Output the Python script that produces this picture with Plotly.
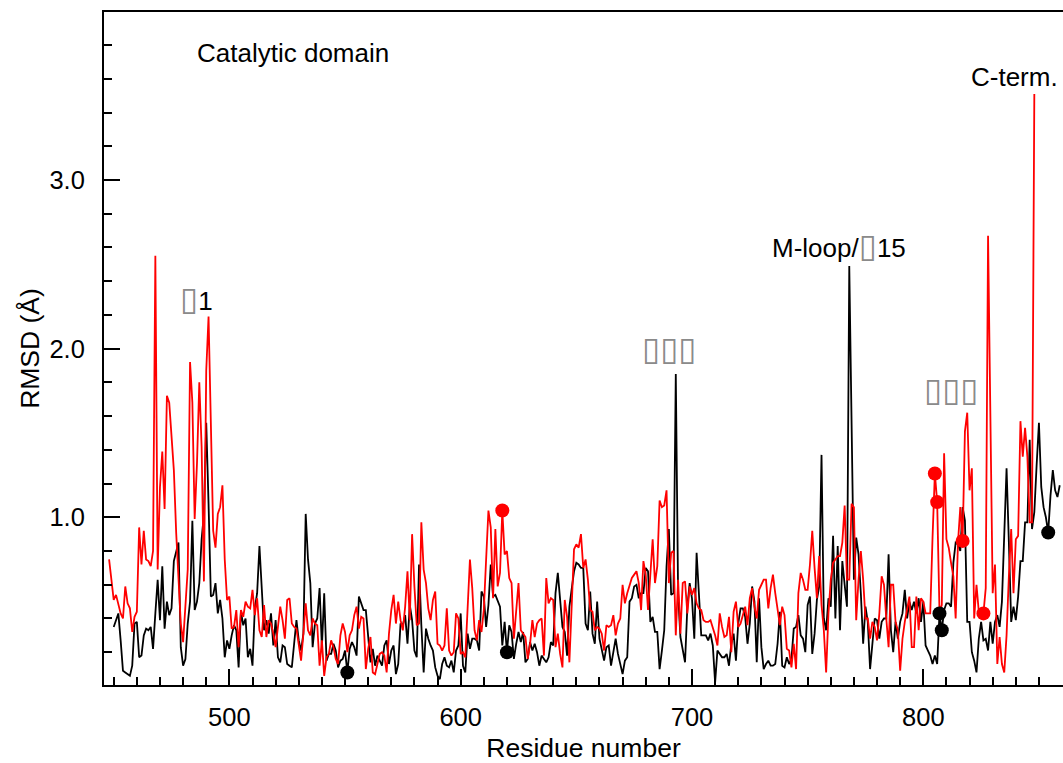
import plotly.graph_objects as go

# ---------------- data ----------------
black_start = 450
black_rmsd = [
    0.35, 0.39, 0.43, 0.27, 0.09, 0.08, 0.07, 0.06, 0.12, 0.37,
    0.38, 0.17, 0.18, 0.30, 0.34, 0.33, 0.35, 0.22, 0.43, 0.63,
    0.39, 0.71, 0.34, 0.50, 0.42, 0.46, 0.74, 0.79, 0.85, 0.23,
    0.12, 0.16, 0.37, 0.50, 0.98, 0.45, 0.50, 0.61, 0.87, 1.02,
    1.56, 1.08, 0.53, 0.54, 0.61, 0.43, 0.51, 0.40, 0.17, 0.27,
    0.22, 0.30, 0.36, 0.33, 0.11, 0.44, 0.36, 0.40, 0.17, 0.22,
    0.12, 0.46, 0.55, 0.83, 0.56, 0.33, 0.39, 0.31, 0.43, 0.24,
    0.39, 0.17, 0.14, 0.24, 0.23, 0.13, 0.12, 0.11, 0.25, 0.39,
    0.27, 0.21, 0.31, 1.02, 0.75, 0.61, 0.23, 0.37, 0.40, 0.58,
    0.23, 0.55, 0.15, 0.19, 0.19, 0.25, 0.21, 0.11, 0.15, 0.16,
    0.21, 0.08, 0.22, 0.26, 0.23, 0.18, 0.53, 0.49, 0.45, 0.45,
    0.27, 0.14, 0.22, 0.12, 0.18, 0.15, 0.12, 0.24, 0.27, 0.13,
    0.21, 0.24, 0.07, 0.13, 0.37, 0.36, 0.42, 0.25, 0.48, 0.39,
    0.21, 0.17, 0.72, 0.36, 0.08, 0.34, 0.28, 0.24, 0.21, 0.11,
    0.06, 0.04, 0.13, 0.17, 0.12, 0.11, 0.15, 0.08, 0.21, 0.24,
    0.43, 0.12, 0.08, 0.31, 0.22, 0.28, 0.28, 0.27, 0.21, 0.56,
    0.53, 0.35, 0.48, 0.72, 0.53, 0.54, 0.51, 0.47, 0.24, 0.38,
    0.20, 0.36, 0.32, 0.16, 0.25, 0.32, 0.26, 0.32, 0.14, 0.16,
    0.26, 0.21, 0.25, 0.20, 0.12, 0.18, 0.16, 0.14, 0.17, 0.26,
    0.24, 0.55, 0.67, 0.53, 0.35, 0.32, 0.18, 0.47, 0.59, 0.68,
    0.73, 0.72, 0.70, 0.70, 0.37, 0.33, 0.56, 0.31, 0.25, 0.50,
    0.28, 0.22, 0.15, 0.23, 0.24, 0.12, 0.20, 0.28, 0.19, 0.12,
    0.07, 0.15, 0.17, 0.50, 0.52, 0.59, 0.60, 0.52, 0.55, 0.55,
    0.70, 0.68, 0.38, 0.41, 0.32, 0.32, 0.10, 0.21, 0.33, 0.71,
    0.93, 0.54, 0.55, 1.85, 0.55, 0.29, 0.22, 0.14, 0.47, 0.61,
    0.52, 0.28, 0.79, 0.54, 0.30, 0.30, 0.30, 0.27, 0.31, 0.24,
    0.02, 0.21, 0.19, 0.17, 0.17, 0.19, 0.12, 0.25, 0.31, 0.15,
    0.37, 0.46, 0.46, 0.41, 0.25, 0.37, 0.59, 0.50, 0.14, 0.52,
    0.23, 0.10, 0.13, 0.15, 0.12, 0.12, 0.13, 0.25, 0.44, 0.12,
    0.11, 0.17, 0.13, 0.16, 0.34, 0.35, 0.42, 0.30, 0.28, 0.20,
    0.48, 0.53, 0.19, 0.31, 0.51, 0.59, 1.37, 0.40, 0.33, 0.52,
    0.47, 0.89, 0.40, 0.83, 0.33, 0.74, 0.60, 0.47, 2.49, 1.44,
    0.63, 0.88, 0.78, 0.55, 0.25, 0.47, 0.38, 0.10, 0.25, 0.40,
    0.39, 0.28, 0.38, 0.40, 0.40, 0.78, 0.33, 0.20, 0.38, 0.28,
    0.38, 0.43, 0.57, 0.40, 0.50, 0.45, 0.50, 0.43, 0.52, 0.38,
    0.50, 0.24, 0.21, 0.18, 0.13, 0.18, 0.13, 0.43, 0.33, 0.45,
    0.49, 0.49, 0.47, 0.73, 0.85, 0.84, 0.80, 1.06, 0.98, 0.38,
    0.38, 0.20, 0.15, 0.08, 0.28, 0.38, 0.27, 0.28, 0.21, 0.38,
    0.25, 0.38, 0.42, 0.35, 0.50, 0.85, 1.29, 0.85, 0.38, 0.47,
    0.39, 0.53, 0.74, 0.74, 0.97, 0.97, 1.46, 0.93, 1.03, 1.31,
    1.56, 1.18, 1.06, 1.00, 0.91, 1.13, 1.28, 1.16, 1.12, 1.19,
]

red_start = 448
red_rmsd = [
    0.75, 0.61, 0.51, 0.54, 0.49, 0.43, 0.40, 0.59, 0.49, 0.46,
    0.32, 0.41, 0.44, 0.94, 0.72, 0.92, 0.75, 0.74, 0.71, 0.80,
    2.55, 0.69, 1.18, 1.39, 1.05, 1.72, 1.68, 1.50, 1.28, 0.91,
    0.61, 0.37, 0.26, 0.51, 0.69, 1.92, 1.68, 0.99, 1.32, 1.80,
    1.42, 0.62, 1.87, 2.19, 1.48, 0.92, 0.82, 1.02, 1.06, 1.19,
    0.75, 0.51, 0.53, 0.34, 0.35, 0.45, 0.23, 0.45, 0.41, 0.50,
    0.47, 0.46, 0.57, 0.42, 0.52, 0.33, 0.29, 0.48, 0.29, 0.39,
    0.37, 0.31, 0.23, 0.35, 0.47, 0.39, 0.28, 0.51, 0.52, 0.37,
    0.35, 0.34, 0.25, 0.15, 0.31, 0.49, 0.33, 0.30, 0.40, 0.37,
    0.36, 0.12, 0.27, 0.06, 0.17, 0.19, 0.27, 0.23, 0.16, 0.13,
    0.30, 0.37, 0.32, 0.20, 0.30, 0.33, 0.42, 0.47, 0.34, 0.41,
    0.40, 0.10, 0.22, 0.29, 0.08, 0.07, 0.13, 0.19, 0.20, 0.18,
    0.08, 0.31, 0.45, 0.54, 0.37, 0.50, 0.39, 0.33, 0.47, 0.68,
    0.39, 0.90, 0.59, 0.36, 0.37, 0.97, 0.69, 0.61, 0.46, 0.39,
    0.51, 0.56, 0.25, 0.24, 0.21, 0.24, 0.46, 0.21, 0.18, 0.20,
    0.43, 0.40, 0.19, 0.20, 0.17, 0.48, 0.75, 0.58, 0.33, 0.27,
    0.39, 0.32, 0.45, 0.75, 1.04, 0.94, 0.52, 0.93, 0.59, 0.67,
    1.04, 0.78, 0.80, 0.64, 0.61, 0.28, 0.45, 0.61, 0.33, 0.31,
    0.29, 0.16, 0.25, 0.39, 0.29, 0.37, 0.39, 0.40, 0.18, 0.64,
    0.49, 0.52, 0.51, 0.23, 0.31, 0.19, 0.11, 0.51, 0.41, 0.14,
    0.45, 0.81, 0.84, 0.82, 0.90, 0.70, 0.75, 0.63, 0.45, 0.44,
    0.33, 0.35, 0.34, 0.31, 0.21, 0.36, 0.35, 0.36, 0.42, 0.30,
    0.37, 0.40, 0.60, 0.49, 0.55, 0.59, 0.64, 0.66, 0.68, 0.61,
    0.45, 0.74, 0.66, 0.45, 0.67, 0.87, 0.61, 0.71, 1.10, 1.06,
    1.07, 1.16, 0.61, 0.79, 0.80, 0.30, 0.63, 0.31, 0.61, 0.62,
    0.43, 0.59, 0.54, 0.58, 0.49, 0.46, 0.45, 0.39, 0.38, 0.38,
    0.39, 0.35, 0.30, 0.24, 0.43, 0.35, 0.29, 0.30, 0.41, 0.20,
    0.44, 0.50, 0.35, 0.37, 0.42, 0.47, 0.36, 0.52, 0.58, 0.47,
    0.40, 0.57, 0.60, 0.63, 0.63, 0.46, 0.58, 0.66, 0.55, 0.45,
    0.36, 0.47, 0.42, 0.22, 0.21, 0.11, 0.25, 0.10, 0.55, 0.67,
    0.63, 0.57, 0.57, 0.72, 0.92, 0.70, 0.52, 0.77, 0.48, 0.33,
    0.08, 0.43, 0.63, 0.73, 0.75, 0.77, 0.77, 0.85, 1.07, 0.63,
    0.63, 1.08, 1.06, 0.39, 0.63, 0.80, 0.63, 0.40, 0.40, 0.28,
    0.38, 0.35, 0.27, 0.43, 0.65, 0.60, 0.40, 0.23, 0.60, 0.60,
    0.38, 0.33, 0.09, 0.28, 0.38, 0.45, 0.53, 0.23, 0.23, 0.53,
    0.33, 0.52, 0.50, 0.43, 0.43, 0.43, 0.88, 1.26, 1.09, 0.44,
    0.48, 1.38, 0.87, 0.82, 0.73, 0.65, 0.40, 0.85, 1.06, 0.86,
    1.51, 1.62, 1.16, 1.29, 0.40, 0.60, 0.44, 0.42, 0.43, 0.58,
    2.67, 1.71, 0.55, 0.72, 0.13, 0.29, 0.13, 0.08, 0.30, 0.65,
    0.93, 0.55, 0.87, 0.89, 1.57, 1.36, 1.53, 1.36, 0.97, 0.97,
    3.51,
]

black_marked = [551, 620, 807, 808, 854]
red_marked = [618, 805, 806, 817, 826]

x_tick_vals = [500, 600, 700, 800]
y_tick_vals = [1.0, 2.0, 3.0]

BOX = ('<span style="font-family:\'DejaVu Sans\';font-size:33px;'
       'color:#8a8a8a">\u25af</span>')
labels = [
    # text, x, y, xanchor
    ("Catalytic domain", 485.0, 3.752, "left"),
    (BOX + "1", 486.0, 2.30, "center"),
    (BOX * 3, 690.1, 2.00, "center"),
    ("M-loop/" + BOX + "15", 763.6, 2.61, "center"),
    (BOX * 3, 812.0, 1.755, "center"),
    ("C-term.", 839.6, 3.61, "center"),
]

# ---------------- figure ----------------
black_x = list(range(black_start, black_start + len(black_rmsd)))
red_x = list(range(red_start, red_start + len(red_rmsd)))

fig = go.Figure()
fig.add_trace(go.Scatter(x=black_x, y=black_rmsd, mode="lines",
                         line=dict(color="black", width=1.8), showlegend=False))
fig.add_trace(go.Scatter(x=red_x, y=red_rmsd, mode="lines",
                         line=dict(color="#ff0000", width=1.8), showlegend=False))

fig.add_trace(go.Scatter(
    x=black_marked, y=[black_rmsd[r - black_start] for r in black_marked],
    mode="markers", marker=dict(color="black", size=14), showlegend=False))
fig.add_trace(go.Scatter(
    x=red_marked, y=[red_rmsd[r - red_start] for r in red_marked],
    mode="markers", marker=dict(color="#ff0000", size=14), showlegend=False))

for text, x, y, xa in labels:
    fig.add_annotation(x=x, y=y, xref="x", yref="y", text=text, showarrow=False,
                       xanchor=xa, yanchor="middle",
                       font=dict(size=26, color="black"))

FONT = "Arial, 'Liberation Sans', sans-serif"
fig.update_layout(
    width=1063, height=763,
    margin=dict(l=104, r=0, t=12, b=78),
    paper_bgcolor="white", plot_bgcolor="white",
    font=dict(family=FONT, size=26, color="black"),
    xaxis=dict(
        range=[445.8, 860.4],
        tickvals=x_tick_vals,
        ticks="inside", ticklen=16, tickwidth=2, tickcolor="black",
        showline=True, linecolor="black", linewidth=2, mirror=True,
        showgrid=False, zeroline=False,
        minor=dict(dtick=10, tick0=0, ticks="inside", ticklen=8,
                   tickwidth=2, tickcolor="black", showgrid=False),
        ticklabelstandoff=8,
        title=dict(text="Residue number", standoff=9, font=dict(size=26.5)),
        tickfont=dict(size=25.5),
    ),
    yaxis=dict(
        range=[0.0056, 3.996],
        tickvals=y_tick_vals, tickformat=".1f",
        ticks="inside", ticklen=16, tickwidth=2, tickcolor="black",
        showline=True, linecolor="black", linewidth=2, mirror=False,
        showgrid=False, zeroline=False,
        minor=dict(dtick=0.2, tick0=0, ticks="inside", ticklen=8,
                   tickwidth=2, tickcolor="black", showgrid=False),
        ticklabelstandoff=12,
        title=dict(text="RMSD (Å)", standoff=2, font=dict(size=26.5)),
        tickfont=dict(size=25.5),
    ),
)

fig.write_html("out.html")
